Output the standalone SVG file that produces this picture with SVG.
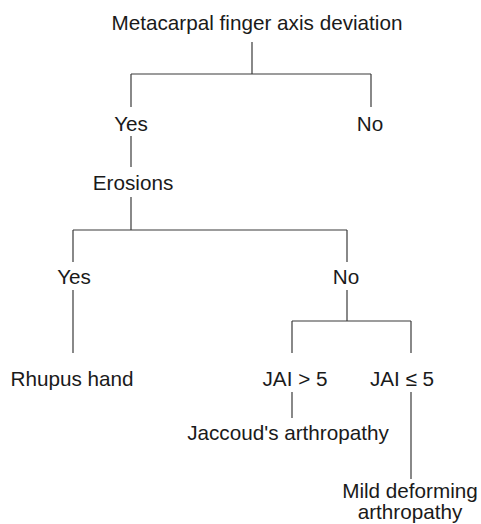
<svg xmlns="http://www.w3.org/2000/svg" width="481" height="524" viewBox="0 0 481 524">
<style>
text{font-family:"Liberation Sans",Arial,sans-serif;font-size:20.7px;fill:#1a1a1a;text-anchor:middle}
.c line{stroke:#3a3a3a;stroke-width:1.2}
</style>
<rect width="481" height="524" fill="#fff"/>
<g class="c" id="connectors">
<line x1="252" y1="42" x2="252" y2="74"/>
<line x1="131" y1="74" x2="371" y2="74"/>
<line x1="131" y1="74" x2="131" y2="107"/>
<line x1="371" y1="74" x2="371" y2="107"/>
<line x1="131" y1="136" x2="131" y2="167"/>
<line x1="131" y1="197" x2="131" y2="230"/>
<line x1="73" y1="230" x2="347" y2="230"/>
<line x1="73" y1="230" x2="73" y2="262"/>
<line x1="347" y1="230" x2="347" y2="262"/>
<line x1="73" y1="290" x2="73" y2="353"/>
<line x1="347" y1="290" x2="347" y2="321"/>
<line x1="292" y1="321" x2="411" y2="321"/>
<line x1="292" y1="321" x2="292" y2="353"/>
<line x1="411" y1="321" x2="411" y2="353"/>
<line x1="292" y1="392" x2="292" y2="418"/>
<line x1="411" y1="392" x2="411" y2="479"/>
</g>
<g id="n-root"><text x="257" y="30">Metacarpal finger axis deviation</text></g>
<g id="n-yes1"><text x="131" y="131">Yes</text></g>
<g id="n-no1"><text x="370" y="131">No</text></g>
<g id="n-erosions"><text x="133" y="190">Erosions</text></g>
<g id="n-yes2"><text x="74" y="284">Yes</text></g>
<g id="n-no2"><text x="346" y="284">No</text></g>
<g id="n-rhupus"><text x="72" y="386">Rhupus hand</text></g>
<g id="n-jai-gt"><text x="295" y="386">JAI &gt; 5</text></g>
<g id="n-jai-le"><text x="402" y="386">JAI ≤ 5</text></g>
<g id="n-jaccoud"><text x="288" y="440">Jaccoud's arthropathy</text></g>
<g id="n-mild"><text x="410" y="498">Mild deforming</text><text x="410" y="519">arthropathy</text></g>
</svg>
